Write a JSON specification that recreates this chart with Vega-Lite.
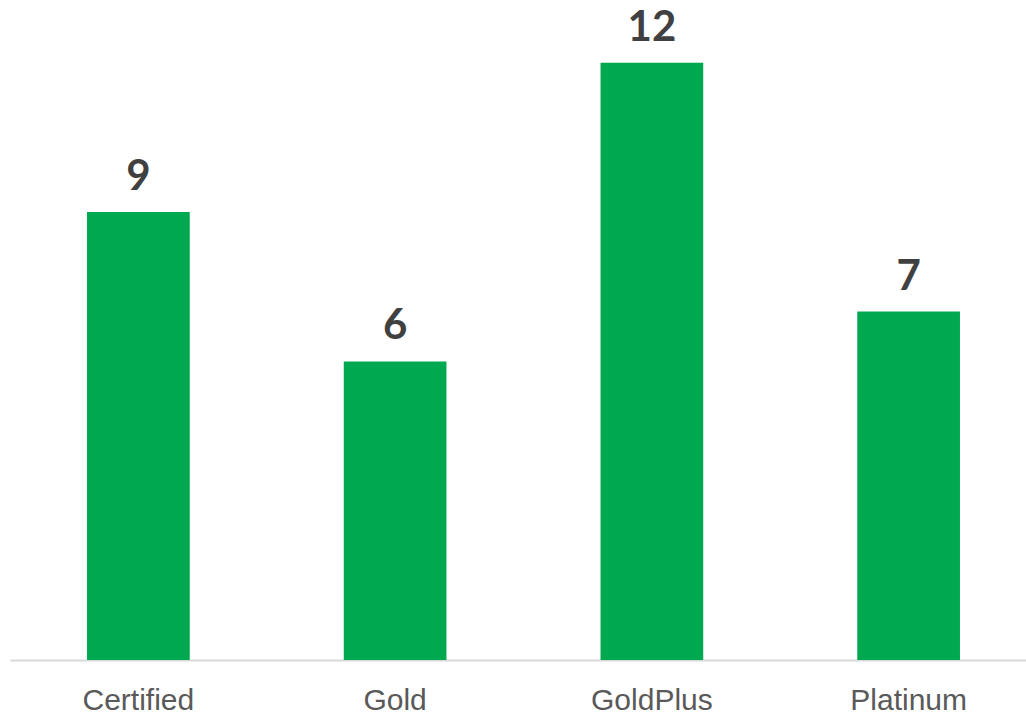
{
  "$schema": "https://vega.github.io/schema/vega-lite/v6.json",
  "autosize": {"type": "none"},
  "padding": {"left": 10, "top": 13, "right": 0, "bottom": 54},
  "width": 1027,
  "height": 647,
  "background": "white",
  "data": {"values": [
    {"category": "Certified", "count": 9},
    {"category": "Gold", "count": 6},
    {"category": "GoldPlus", "count": 12},
    {"category": "Platinum", "count": 7}
  ]},
  "encoding": {
    "x": {"field": "category", "type": "nominal", "sort": null,
      "scale": {"paddingInner": 0.6, "paddingOuter": 0.3},
      "axis": {"title": null, "labelAngle": 0, "labelFont": "Liberation Sans", "labelFontSize": 30, "labelColor": "#595959", "labelPadding": 25, "ticks": false, "domainColor": "#d9d9d9", "domainWidth": 2, "grid": false}},
    "y": {"field": "count", "type": "quantitative",
      "scale": {"domain": [0, 13], "nice": false},
      "axis": null}
  },
  "layer": [
    {"mark": {"type": "bar", "color": "#00a84f"}},
    {"mark": {"type": "text", "baseline": "middle", "dy": -35, "font": "Lato", "fontWeight": "bold", "fontSize": 42, "color": "#404040"},
      "encoding": {"text": {"field": "count", "type": "quantitative"}}}
  ],
  "config": {"view": {"stroke": null}}
}
